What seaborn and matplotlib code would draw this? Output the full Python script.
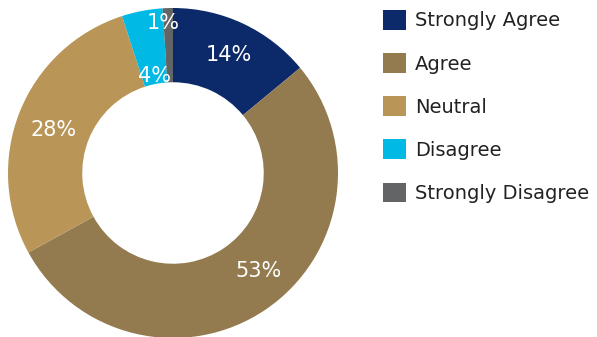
import matplotlib
matplotlib.use("Agg")
import matplotlib.pyplot as plt
import numpy as np
import seaborn as sns

# Survey response shares (percent)
categories = ["Strongly Agree", "Agree", "Neutral", "Disagree", "Strongly Disagree"]
shares = [14, 53, 28, 4, 1]
colors = ["#0C2A6A", "#937B4F", "#B99658", "#00B9E5", "#636466"]

sns.set_theme(style="white")
plt.rcParams["font.family"] = ["DejaVu Sans"]

fig = plt.figure(figsize=(5.97, 3.37), dpi=100)
ax = fig.add_axes([8 / 597, -1 / 337, 330 / 597, 330 / 337])

wedges, _ = ax.pie(
    shares,
    colors=colors,
    startangle=90,
    counterclock=False,
    radius=1.0,
    wedgeprops=dict(width=0.45, edgecolor="none"),
)
ax.set_aspect("equal")
ax.set_xlim(-1, 1)
ax.set_ylim(-1, 1)
ax.axis("off")

# Percentage labels placed inside the ring; tiny slices get nudged radii
label_radius = [0.79, 0.79, 0.77, 0.60, 0.91]
angle_shift = [0, 7, 2, 0, 2]
for w, v, r, dshift in zip(wedges, shares, label_radius, angle_shift):
    mid = np.deg2rad((w.theta1 + w.theta2) / 2 + dshift)
    ax.text(r * np.cos(mid), r * np.sin(mid), f"{v}%", color="white",
            fontsize=15, ha="center", va="center")

leg = fig.legend(
    wedges, categories,
    loc="upper left",
    bbox_to_anchor=(383 / 597, 1 - 10 / 337),
    frameon=False,
    fontsize=14,
    handlelength=1.18,
    handleheight=1.18,
    handletextpad=0.45,
    labelspacing=1.17,
    borderpad=0,
    borderaxespad=0,
)
for t in leg.get_texts():
    t.set_color("#222222")

fig.savefig("out.png", dpi=100)
